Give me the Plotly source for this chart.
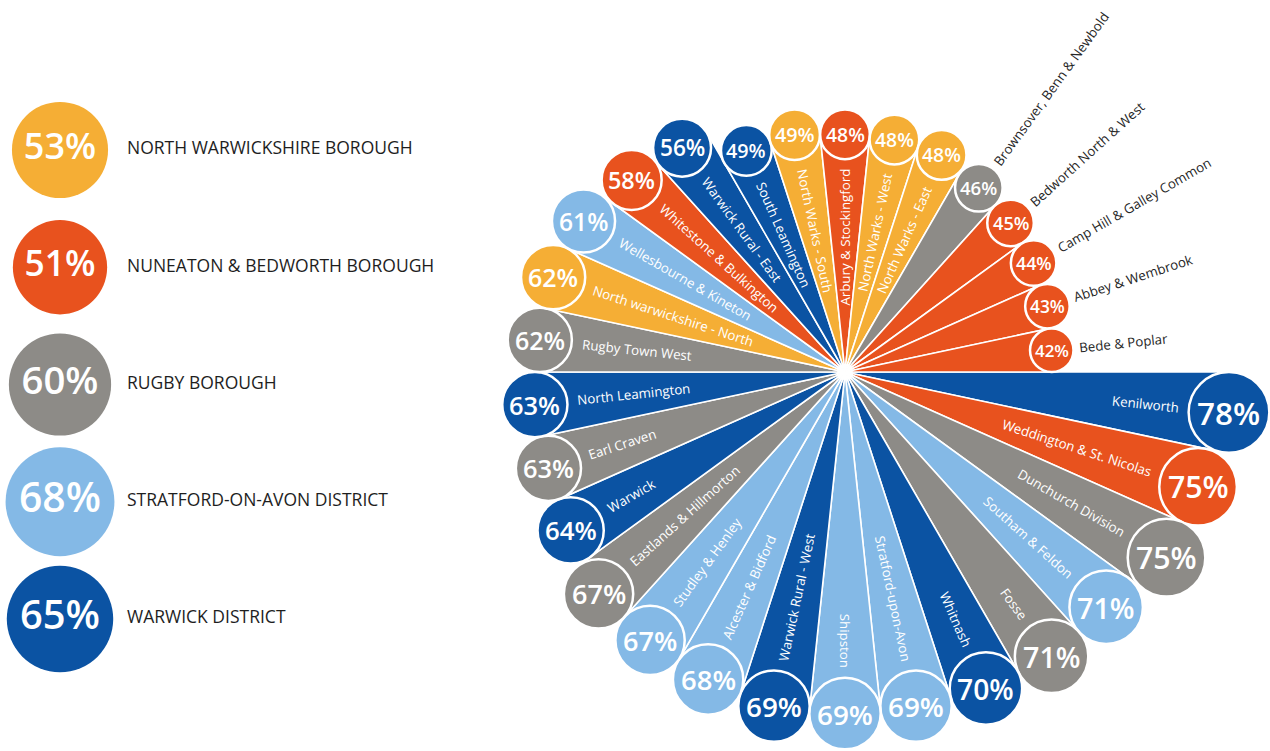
import numpy as np
import plotly.graph_objects as go

# ---------------- data ----------------
wards = [
    "Kenilworth", "Weddington & St. Nicolas", "Dunchurch Division", "Southam & Feldon",
    "Fosse", "Whitnash", "Stratford-upon-Avon", "Shipston", "Warwick Rural - West",
    "Alcester & Bidford", "Studley & Henley", "Eastlands & Hillmorton", "Warwick",
    "Earl Craven", "North Leamington", "Rugby Town West", "North warwickshire - North",
    "Wellesbourne & Kineton", "Whitestone & Bulkington", "Warwick Rural - East",
    "South Leamington", "North Warks - South", "Arbury & Stockingford", "North Warks - West",
    "North Warks - East", "Brownsover, Benn & Newbold", "Bedworth North & West",
    "Camp Hill & Galley Common", "Abbey & Wembrook", "Bede & Poplar",
]
ward_values = [78, 75, 75, 71, 71, 70, 69, 69, 69, 68, 67, 67, 64, 63, 63,
               62, 62, 61, 58, 56, 49, 49, 48, 48, 48, 46, 45, 44, 43, 42]
ward_district = ["WD", "NB", "RB", "SA", "RB", "WD", "SA", "SA", "WD", "SA",
                 "SA", "RB", "WD", "RB", "WD", "RB", "NW", "SA", "NB", "WD",
                 "WD", "NW", "NB", "NW", "NW", "RB", "NB", "NB", "NB", "NB"]

districts = ["NORTH WARWICKSHIRE BOROUGH", "NUNEATON & BEDWORTH BOROUGH", "RUGBY BOROUGH",
             "STRATFORD-ON-AVON DISTRICT", "WARWICK DISTRICT"]
district_codes = ["NW", "NB", "RB", "SA", "WD"]
district_values = [53, 51, 60, 68, 65]

# ---------------- style / layout constants ----------------
COLORS = {"NW": "#F5AE35", "NB": "#E8521E", "RB": "#8D8B87", "SA": "#84B9E6", "WD": "#0B53A3"}
FONT = "Open Sans"
W, H = 1270, 751
CX, CY = 845, 372          # centre of the fan (px from left / top)
RPX = 372                  # polar radius in px
PX = 4.95                  # px per percentage point
RMAX = RPX / PX
OUTSIDE_BELOW = 47         # wards below this get their name outside the circle
LABEL_FS = 13.3
OVERLAY_X0 = 0.3           # left edge of the overlay axes (paper fraction)

n = len(wards)
step = 360.0 / n
theta = -step / 2 - step * np.arange(n)
half = np.deg2rad(step / 2)
vals = np.array(ward_values, dtype=float)
R_px = vals * PX
rc_px = R_px * np.sin(half)
colors = [COLORS[c] for c in ward_district]
th_rad = np.deg2rad(theta)

# approximate Open Sans advance widths (em)
OS_W = {' ': .26, '&': .711, '-': .322, '.': .266, ',': .244,
        'A': .633, 'B': .648, 'C': .631, 'D': .729, 'E': .556, 'F': .516, 'G': .728,
        'H': .738, 'K': .619, 'L': .525, 'N': .76, 'P': .603, 'R': .623, 'S': .537,
        'W': .944, 'a': .556, 'b': .613, 'c': .476, 'd': .613, 'e': .561, 'f': .339,
        'g': .548, 'h': .614, 'i': .253, 'k': .525, 'l': .253, 'm': .93, 'n': .614,
        'o': .604, 'p': .613, 'r': .408, 's': .477, 't': .353, 'u': .614, 'v': .501,
        'w': .778, 'y': .501}


def text_w(s, fs):
    return sum(OS_W.get(ch, 0.58) for ch in s) * fs


fig = go.Figure()

# wedges
fig.add_trace(go.Barpolar(
    r=ward_values, theta=theta, width=[step] * n,
    marker=dict(color=colors, line=dict(color="white", width=1.6)),
    hoverinfo="skip", showlegend=False,
))

# value circles at the end of each wedge: shapes in a cartesian overlay with the same scale
shapes = []
annotations = []
cx_d = vals * np.cos(th_rad)
cy_d = vals * np.sin(th_rad)
rc_d = vals * np.sin(half)
for i in range(n):
    shapes.append(dict(
        type="circle", xref="x2", yref="y2", layer="above",
        x0=cx_d[i] - rc_d[i], x1=cx_d[i] + rc_d[i],
        y0=cy_d[i] - rc_d[i], y1=cy_d[i] + rc_d[i],
        fillcolor=colors[i], line=dict(color="white", width=2.5),
    ))
    annotations.append(dict(
        x=cx_d[i], y=cy_d[i], xref="x2", yref="y2", text=f"{ward_values[i]}%",
        showarrow=False, xanchor="center", yanchor="middle",
        font=dict(family=FONT, size=0.78 * rc_px[i], color="white", weight=600),
    ))

# ward names along the wedges
for i in range(n):
    t = ((theta[i] + 180) % 360) - 180
    ang = -t if -90 <= t <= 90 else 180 - t
    ang = ((ang + 180) % 360) - 180
    outside = ward_values[i] < OUTSIDE_BELOW
    w = text_w(wards[i], LABEL_FS)
    if outside:
        d = R_px[i] + rc_px[i] + 6 + w / 2
    else:
        d = R_px[i] - rc_px[i] - 10 - w / 2
    tr = np.deg2rad(t)
    annotations.append(dict(
        x=d / PX * np.cos(tr), y=d / PX * np.sin(tr), xref="x2", yref="y2",
        text=wards[i], textangle=ang, showarrow=False,
        xanchor="center", yanchor="middle",
        font=dict(family=FONT, size=LABEL_FS, color="#262626" if outside else "white"),
    ))

# invisible anchor so the overlay axes exist
fig.add_trace(go.Scatter(
    x=cx_d, y=cy_d, xaxis="x2", yaxis="y2", mode="markers",
    marker=dict(size=1, opacity=0), hoverinfo="skip", showlegend=False,
))

# district key on the left
key_sizes = 13.2 * np.sqrt(np.array(district_values, dtype=float))
fig.add_trace(go.Scatter(
    x=[0] * len(districts), y=districts, mode="markers+text",
    marker=dict(size=key_sizes, color=[COLORS[c] for c in district_codes], opacity=1,
                line=dict(width=0)),
    text=[f"{v}%" for v in district_values], textposition="middle center",
    textfont=dict(family=FONT, size=list(0.375 * key_sizes), color="white", weight=600),
    cliponaxis=False, hoverinfo="skip", showlegend=False,
))
fig.add_trace(go.Scatter(
    x=[1] * len(districts), y=districts, mode="text", text=districts,
    textposition="middle right", marker=dict(size=1),
    textfont=dict(family=FONT, size=17.5, color="#1e1e1e"),
    cliponaxis=False, hoverinfo="skip", showlegend=False,
))

key_w = 0.3 * W
px_dom = [(CX - RPX) / W, (CX + RPX) / W]
py_dom = [1 - (CY + RPX) / H, 1 - (CY - RPX) / H]
fig.update_layout(
    width=W, height=H, margin=dict(l=0, r=0, t=0, b=0, pad=0),
    paper_bgcolor="white", plot_bgcolor="rgba(0,0,0,0)",
    showlegend=False, hovermode=False,
    polar=dict(
        domain=dict(x=px_dom, y=py_dom),
        bgcolor="rgba(0,0,0,0)", hole=0,
        radialaxis=dict(range=[0, RMAX], visible=False, showgrid=False),
        angularaxis=dict(visible=False, showgrid=False, rotation=0, direction="counterclockwise"),
    ),
    xaxis=dict(domain=[0, 0.3], range=[-60 / 67, (key_w - 60) / 67], visible=False, fixedrange=True),
    yaxis=dict(type="category", categoryarray=districts, range=[(H - 150) / 117.25, -150 / 117.25],
               visible=False, fixedrange=True),
    xaxis2=dict(domain=[OVERLAY_X0, 1], range=[(OVERLAY_X0 * W - CX) / PX, (W - CX) / PX],
                visible=False, fixedrange=True),
    yaxis2=dict(domain=[0, 1], range=[(CY - H) / PX, CY / PX], visible=False, fixedrange=True),
    shapes=shapes,
    annotations=annotations,
)

fig.write_html("out.html")
